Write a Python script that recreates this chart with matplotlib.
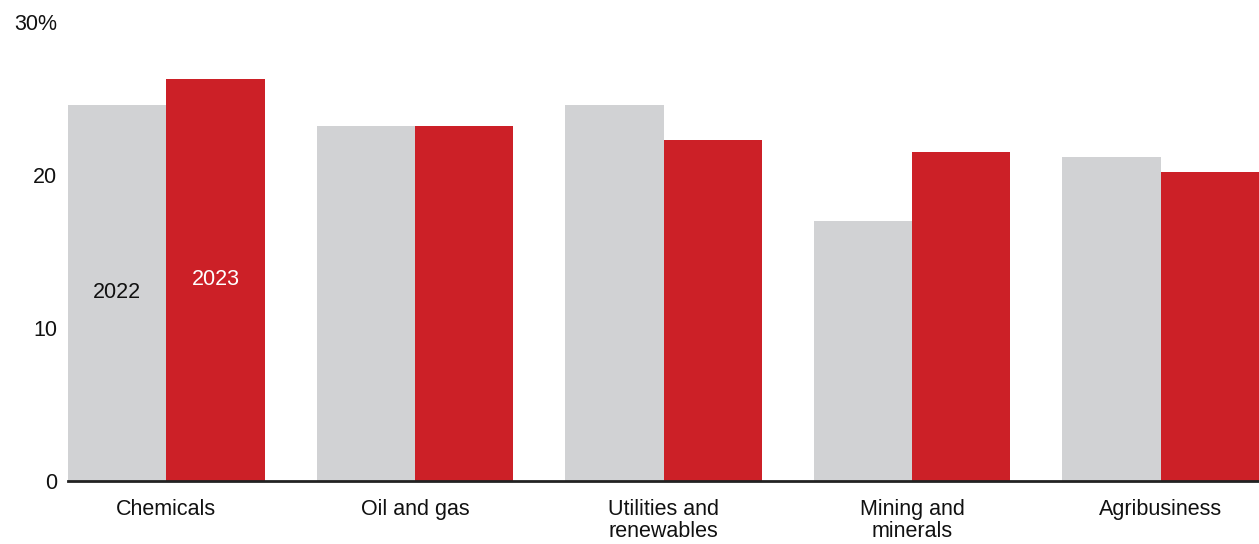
import matplotlib.pyplot as plt
import numpy as np

plt.rcParams['font.family'] = ['Liberation Sans', 'DejaVu Sans']

categories = ['Chemicals', 'Oil and gas', 'Utilities and\nrenewables', 'Mining and\nminerals', 'Agribusiness']
values_2022 = [24.6, 23.2, 24.6, 17.0, 21.2]
values_2023 = [26.3, 23.2, 22.3, 21.5, 20.2]

gray = '#D1D2D4'
red = '#CC2027'
w = 0.396
x = np.arange(len(categories))

fig = plt.figure(figsize=(12.59, 5.44), dpi=100)
ax = fig.add_axes([68 / 1259, 1 - 481 / 544, (1259 - 68) / 1259, (481 - 22) / 544])

ax.bar(x - w / 2, values_2022, width=w, color=gray)
ax.bar(x + w / 2, values_2023, width=w, color=red)

ax.set_xlim(-w, len(categories) - 1 + w)
ax.set_ylim(0, 30)
ax.set_yticks([0, 10, 20, 30])
ax.set_yticklabels(['0', '10', '20', '30%'])
ax.set_xticks(x)
ax.set_xticklabels(categories, va='top', linespacing=1.05)
ax.tick_params(axis='both', length=0, labelsize=15.5, colors='#111111')
ax.tick_params(axis='y', pad=8)
ax.tick_params(axis='x', pad=13)

for s in ['top', 'right', 'left']:
    ax.spines[s].set_visible(False)
ax.spines['bottom'].set_linewidth(2)
ax.spines['bottom'].set_color('#222222')

ax.text(x[0] - w / 2, 12.3, '2022', ha='center', va='center', fontsize=15.5, color='#111111')
ax.text(x[0] + w / 2, 13.2, '2023', ha='center', va='center', fontsize=15.5, color='white')

fig.savefig('out.png', dpi=100)
